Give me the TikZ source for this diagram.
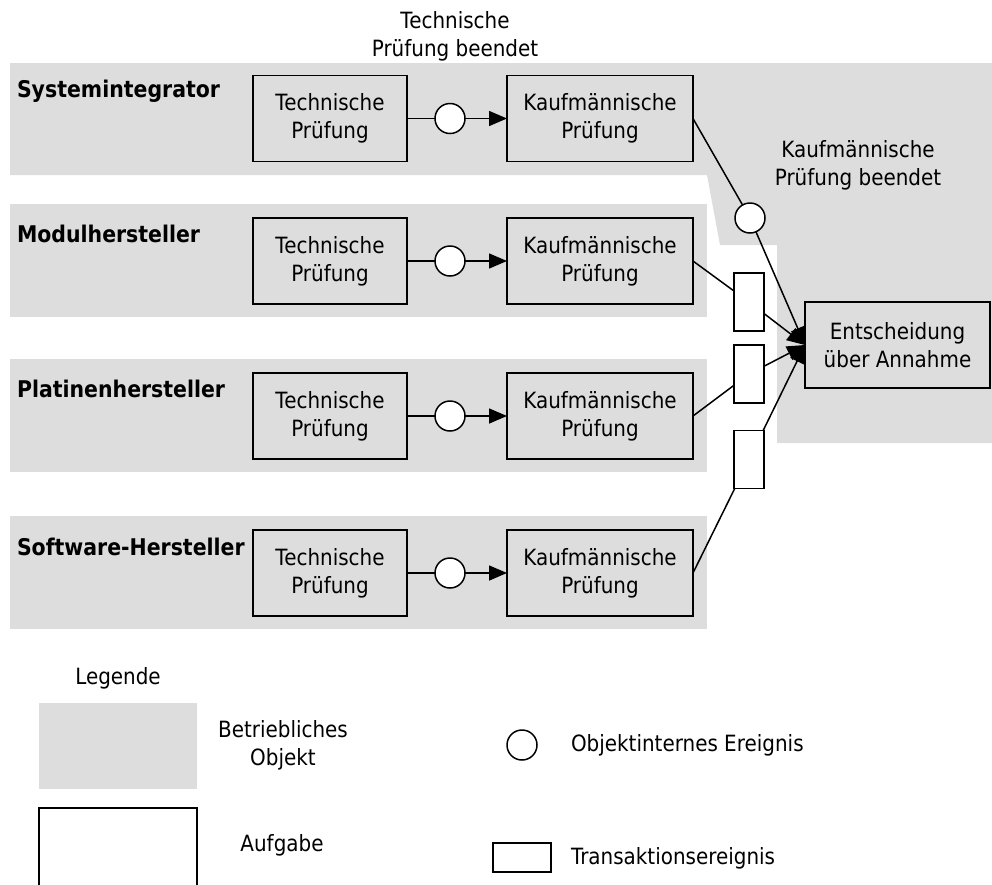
\documentclass[tikz,border=0pt]{standalone}
\usepackage{fontspec}
\setmainfont{DejaVu Sans}[FakeStretch=0.89]
\usetikzlibrary{arrows.meta}
\definecolor{objgray}{RGB}{221,221,221}

\begin{document}
\begin{tikzpicture}[x=1pt,y=-1pt,
  every node/.style={inner sep=0pt,outer sep=0pt},
  txt/.style={font=\fontsize{22.4}{28}\selectfont,align=center},
  actor/.style={font=\fontsize{23}{27}\selectfont\bfseries,anchor=base west},
  objarea/.style={fill=objgray,draw=none},
  task/.style={draw,line width=1.5pt,txt,minimum height=86pt},
  techtask/.style={task,minimum width=154pt},
  kauftask/.style={task,minimum width=186pt},
  intevent/.style={circle,draw,line width=1.5pt,fill=white,minimum size=30pt},
  txevent/.style={rectangle,draw,line width=1.5pt,fill=white,minimum width=30pt,minimum height=58pt},
  flow/.style={line width=1.5pt},
  arr/.style={flow,-{Triangle[length=18pt,width=15pt]}}
]
\useasboundingbox (0,0) rectangle (992,884);
\clip (0,0) rectangle (992,884);

% business objects (grey areas)
\fill[objarea] (10,63) -- (992,63) -- (992,443) -- (777,443) -- (777,245)
  -- (720,245) -- (707,175) -- (10,175) -- cycle;
\fill[objarea] (10,204) rectangle (707,317);
\fill[objarea] (10,359) rectangle (707,472);
\fill[objarea] (10,516) rectangle (707,629);

% actor names
\node[actor] (n1) at (17,97) {Systemintegrator};
\node[actor] (n2) at (17,242) {Modulhersteller};
\node[actor] (n3) at (17,397) {Platinenhersteller};
\node[actor] (n4) at (17,555) {Software-Hersteller};

% tasks and internal events per row
\foreach \i/\y in {1/118.5,2/261,3/416,4/573}{
  \node[techtask] (t\i) at (330,\y) {Technische\\Prüfung};
  \node[kauftask] (k\i) at (600,\y) {Kaufmännische\\Prüfung};
  \node[intevent] (c\i) at (450,\y) {};
  \draw[flow] (t\i) -- (c\i);
  \draw[arr] (c\i) -- (k\i);
}

% decision task
\node[task,minimum width=185pt] (E) at (897.5,345) {Entscheidung\\über Annahme};

% events leading to the decision
\node[intevent] (kc) at (750,218) {};
\node[txevent] (r1) at (749,302) {};
\node[txevent] (r2) at (749,374) {};
\node[txevent] (r3) at (749,459.5) {};

\draw[flow] (k1.east) -- (kc);
\draw[flow] (k2.east) -- (r1);
\draw[flow] (k3.east) -- (r2);
\draw[flow] (k4.east) -- (r3);
\draw[arr] (kc) -- (E.west);
\draw[arr] (r1) -- (E.west);
\draw[arr] (r2) -- (E.west);
\draw[arr] (r3) -- (E.west);

% event labels
\node[txt] (lt) at (455,36) {Technische\\Prüfung beendet};
\node[txt] (lk) at (858,165) {Kaufmännische\\Prüfung beendet};

% legend
\node[txt] (leg) at (118,678) {Legende};
\fill[objarea] (39,703) rectangle (197,789);
\node[txt] (lobj) at (283,745) {Betriebliches\\Objekt};
\draw[line width=1.5pt] (39,808) rectangle (197,900);
\node[txt] (ltask) at (282,845) {Aufgabe};
\node[intevent] (lc) at (522,745) {};
\node[txt,anchor=west] (lct) at (571,745) {Objektinternes Ereignis};
\node[rectangle,draw,line width=1.5pt,minimum width=58pt,minimum height=29pt] (lr) at (522,857.5) {};
\node[txt,anchor=west] (lrt) at (571,858) {Transaktionsereignis};
\end{tikzpicture}
\end{document}
